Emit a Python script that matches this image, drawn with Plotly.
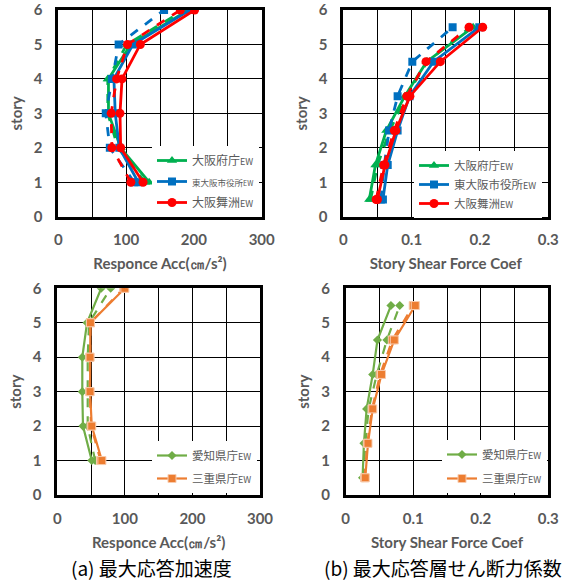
import plotly.graph_objects as go

# ---------------- data ----------------
stories_acc = [1, 2, 3, 4, 5, 6]
stories_shear = [0.5, 1.5, 2.5, 3.5, 4.5, 5.5]

# (a) top: Osaka group, max response acceleration (cm/s2)
osaka_fuchou_acc = [134, 92, 74, 74, 107, 192]
osaka_fuchou_acc_dash = [128, 88, 73, 73, 101, 186]
higashiosaka_acc = [118, 90, 84, 82, 110, 194]
higashiosaka_acc_dash = [112, 76, 70, 79, 89, 156]
osaka_maishima_acc = [125, 92, 91, 94, 121, 201]
osaka_maishima_acc_dash = [107, 79, 78, 86, 102, 180]

# (b) top: Osaka group, story shear force coefficient
osaka_fuchou_shear = [0.038, 0.047, 0.063, 0.090, 0.122, 0.190]
osaka_fuchou_shear_dash = [0.040, 0.050, 0.068, 0.092, 0.123, 0.186]
higashiosaka_shear = [0.058, 0.065, 0.0795, 0.097, 0.132, 0.199]
higashiosaka_shear_dash = [0.055, 0.060, 0.067, 0.0795, 0.101, 0.160]
osaka_maishima_shear = [0.050, 0.061, 0.077, 0.0975, 0.142, 0.204]
osaka_maishima_shear_dash = [0.048, 0.059, 0.0746, 0.093, 0.121, 0.184]

# (a) bottom: Aichi / Mie
aichi_acc = [51, 38, 37, 37, 44, 65]
aichi_acc_dash = [56, 45, 45, 45, 47, 79]
mie_acc = [66, 51, 48.5, 48.5, 49, 100]
mie_acc_dash = [64, 50, 48, 48, 49, 98]

# (b) bottom: Aichi / Mie
aichi_shear = [0.025, 0.027, 0.031, 0.040, 0.047, 0.067]
aichi_shear_dash = [0.026, 0.029, 0.034, 0.046, 0.061, 0.080]
mie_shear = [0.029, 0.033, 0.040, 0.053, 0.072, 0.103]
mie_shear_dash = [0.028, 0.032, 0.039, 0.051, 0.069, 0.100]

acc_ticks = [0, 50, 100, 150, 200, 250, 300]
acc_ticktext = ["0", "", "100", "", "200", "", "300"]
shear_ticks = [0, 0.05, 0.1, 0.15, 0.2, 0.25, 0.3]
shear_ticktext = ["0", "", "0.1", "", "0.2", "", "0.3"]
story_ticks = [0, 1, 2, 3, 4, 5, 6]

GREEN = "#00B050"
BLUE = "#0070C0"
RED = "#FF0000"
LGREEN = "#70AD47"
ORANGE = "#ED7D31"
GRAY = "#595959"

names_top = ["大阪府庁", "東大阪市役所", "大阪舞洲"]
names_bot = ["愛知県庁", "三重県庁"]


def nm(base, big=12, small=9):
    return (f'<span style="font-size:{big}px">{base}</span>'
            f'<span style="font-size:{small}px">EW</span>')


fig = go.Figure()


def add_pair(x_solid, x_dash, y, color, symbol, msize, name, xa, ya, leg,
             lw=2.5, mline=None):
    marker = dict(symbol=symbol, size=msize, color=color)
    if mline:
        marker["line"] = dict(color=mline, width=1)
    fig.add_trace(go.Scatter(
        x=x_dash, y=y, mode="lines+markers", xaxis=xa, yaxis=ya,
        line=dict(color=color, width=lw, dash="dash"), marker=marker,
        showlegend=False, hoverinfo="skip"))
    fig.add_trace(go.Scatter(
        x=x_solid, y=y, mode="lines+markers", xaxis=xa, yaxis=ya,
        line=dict(color=color, width=lw), marker=marker,
        name=name, legend=leg, legendgroup=leg + name))


# top-left
add_pair(osaka_fuchou_acc, osaka_fuchou_acc_dash, stories_acc, GREEN, "triangle-up", 9,
         nm(names_top[0], 12, 9), "x", "y", "legend", lw=2.8)
add_pair(higashiosaka_acc, higashiosaka_acc_dash, stories_acc, BLUE, "square", 8,
         nm(names_top[1], 8.5, 7), "x", "y", "legend", lw=2.8)
add_pair(osaka_maishima_acc, osaka_maishima_acc_dash, stories_acc, RED, "circle", 9,
         nm(names_top[2], 12, 9), "x", "y", "legend", lw=2.8)

# top-right
add_pair(osaka_fuchou_shear, osaka_fuchou_shear_dash, stories_shear, GREEN, "triangle-up", 9,
         nm(names_top[0], 11.5, 9), "x2", "y2", "legend2", lw=2.8)
add_pair(higashiosaka_shear, higashiosaka_shear_dash, stories_shear, BLUE, "square", 8,
         nm(names_top[1], 11.5, 9), "x2", "y2", "legend2", lw=2.8)
add_pair(osaka_maishima_shear, osaka_maishima_shear_dash, stories_shear, RED, "circle", 9,
         nm(names_top[2], 11.5, 9), "x2", "y2", "legend2", lw=2.8)

# bottom-left
add_pair(aichi_acc, aichi_acc_dash, stories_acc, LGREEN, "diamond", 7,
         nm(names_bot[0], 11.5, 9), "x3", "y3", "legend3", lw=2.2)
add_pair(mie_acc, mie_acc_dash, stories_acc, ORANGE, "square", 8,
         nm(names_bot[1], 11.5, 9), "x3", "y3", "legend3", lw=2.2, mline="#F8CBAD")

# bottom-right
add_pair(aichi_shear, aichi_shear_dash, stories_shear, LGREEN, "diamond", 7,
         nm(names_bot[0], 11.5, 9), "x4", "y4", "legend4", lw=2.2)
add_pair(mie_shear, mie_shear_dash, stories_shear, ORANGE, "square", 8,
         nm(names_bot[1], 11.5, 9), "x4", "y4", "legend4", lw=2.2, mline="#F8CBAD")

W, H = 570, 582


def px(x0, x1):
    return [x0 / W, x1 / W]


def py(y0, y1):  # y0 top px, y1 bottom px
    return [1 - y1 / H, 1 - y0 / H]


tickfont = dict(family="Lato, Open Sans, sans-serif", size=15, color=GRAY, weight="bold")
titlefont = dict(family="Lato, Open Sans, sans-serif", size=15, color=GRAY, weight="bold")


def xaxis(dom, anchor, rng, tv, tt, title):
    return dict(domain=dom, anchor=anchor, range=rng, tickvals=tv, ticktext=tt,
                showgrid=True, gridcolor="black", gridwidth=1, zeroline=False,
                showline=True, linecolor="black", linewidth=2.5, mirror=True,
                ticks="outside", ticklen=8, tickcolor="rgba(0,0,0,0)",
                tickfont=tickfont, fixedrange=True, automargin=False,
                title=dict(text=title, font=titlefont, standoff=12))


def yaxis(dom, anchor):
    return dict(domain=dom, anchor=anchor, range=[0, 6], tickvals=story_ticks,
                showgrid=True, gridcolor="black", gridwidth=1, zeroline=False,
                showline=True, linecolor="black", linewidth=2.5, mirror=True,
                ticks="outside", ticklen=10, tickcolor="rgba(0,0,0,0)",
                tickfont=tickfont, fixedrange=True, automargin=False,
                title=dict(text="story", font=titlefont, standoff=8))


acc_title = "Responce Acc(㎝/s²)"
shear_title = "Story Shear Force Coef"

fig.update_layout(
    width=W, height=H,
    margin=dict(l=0, r=0, t=0, b=0, autoexpand=False),
    paper_bgcolor="white", plot_bgcolor="white",
    font=dict(family="Lato, Noto Sans CJK JP, sans-serif", color=GRAY),
    xaxis=xaxis(px(58.3, 261.7), "y", [0, 300], acc_ticks, acc_ticktext, acc_title),
    yaxis=yaxis(py(10, 216.7), "x"),
    xaxis2=xaxis(px(343.3, 548.3), "y2", [0, 0.3], shear_ticks, shear_ticktext, shear_title),
    yaxis2=yaxis(py(10, 216.7), "x2"),
    xaxis3=xaxis(px(57.3, 260), "y3", [0, 300], acc_ticks, acc_ticktext, acc_title),
    yaxis3=yaxis(py(288.3, 495), "x3"),
    xaxis4=xaxis(px(345.7, 548.3), "y4", [0, 0.3], shear_ticks, shear_ticktext, shear_title),
    yaxis4=yaxis(py(288.3, 495), "x4"),
)

legfont = dict(family="Noto Sans CJK JP, sans-serif", size=12, color=GRAY)


def legend(x, y, gap, size=12):
    return dict(x=x / W, y=1 - y / H, xanchor="left", yanchor="top",
                bgcolor="white", borderwidth=0, font=dict(legfont, size=size),
                itemwidth=30, tracegroupgap=gap, traceorder="grouped")


fig.update_layout(
    legend=legend(152, 146, 2),
    legend2=legend(414, 151, 0, 11),
    legend3=legend(152, 441, 4),
    legend4=legend(442, 440, 5),
)

capfont = dict(family="Noto Sans CJK JP, sans-serif", size=19, color="black")
fig.add_annotation(text="(a) 最大応答加速度", x=151.5 / W, y=1 - 567 / H, xref="paper", yref="paper",
                   showarrow=False, font=capfont, xanchor="center", yanchor="middle")
fig.add_annotation(text="(b) 最大応答層せん断力係数", x=442.5 / W, y=1 - 567 / H, xref="paper", yref="paper",
                   showarrow=False, font=capfont, xanchor="center", yanchor="middle")

fig.write_html("out.html", config={"displayModeBar": False},
               post_script="document.body.style.margin='0';document.body.style.overflow='hidden';")
